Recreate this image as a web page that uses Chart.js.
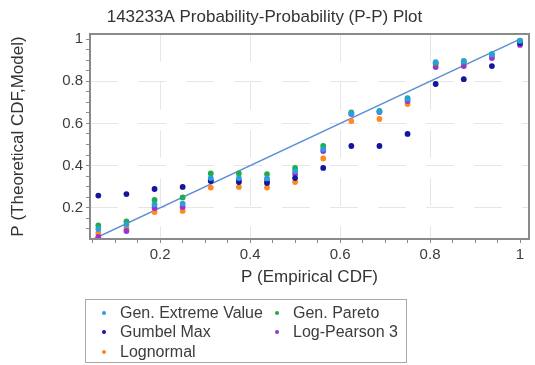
<!DOCTYPE html>
<html>
<head>
<meta charset="utf-8">
<script src="https://cdn.jsdelivr.net/npm/chart.js@4"></script>
<style>
  html, body { margin: 0; padding: 0; background: #fff; }
  #wrap { position: relative; width: 535px; height: 365px; }
  canvas { display: block; }
  #legend {
    position: absolute; left: 85px; top: 299px;
    width: 320px; height: 59px; padding-top: 3px;
    border: 1px solid #a8a8a8;
    font: 16px "Liberation Sans", Arial, sans-serif; color: #3c3c3c;
    display: grid; grid-template-columns: 173px auto; grid-auto-rows: 19.5px;
  }
  #legend .item { display: flex; align-items: center; white-space: nowrap; }
  #legend .dot { flex: 0 0 4px; width: 4px; height: 4px; border-radius: 50%; margin-left: 16px; margin-right: 14px; }
</style>
</head>
<body>
<div id="wrap">
  <canvas id="chart" width="535" height="365"></canvas>
  <div id="legend"></div>
</div>
<script>
// Empirical plotting positions (x) for the 16 observations
const empiricalP = [0.0625, 0.125, 0.1875, 0.25, 0.3125, 0.375, 0.4375, 0.5,
                    0.5625, 0.625, 0.6875, 0.75, 0.8125, 0.875, 0.9375, 1];

// Theoretical CDF values from each fitted distribution
const genExtremeValue = [0.100, 0.121, 0.216, 0.220, 0.341, 0.341, 0.339, 0.374,
                         0.479, 0.647, 0.656, 0.716, 0.891, 0.896, 0.927, 0.993];
const genPareto       = [0.116, 0.135, 0.237, 0.249, 0.363, 0.363, 0.360, 0.389,
                         0.493, 0.652, 0.659, 0.720, 0.886, 0.893, 0.929, 0.991];
const gumbelMax       = [0.258, 0.265, 0.289, 0.299, 0.327, 0.322, 0.318, 0.341,
                         0.389, 0.493, 0.493, 0.550, 0.787, 0.810, 0.872, 0.981];
const logPearson3     = [0.062, 0.090, 0.199, 0.204, 0.329, 0.329, 0.327, 0.360,
                         0.469, 0.645, 0.654, 0.706, 0.867, 0.872, 0.910, 0.972];
const lognormal       = [0.081, 0.104, 0.180, 0.185, 0.296, 0.299, 0.296, 0.322,
                         0.434, 0.611, 0.621, 0.692, 0.882, 0.886, 0.919, 0.991];

// 1:1 reference line end points
const referenceLine = [0, 1];

// Axis ticks: minor every 0.05, labelled majors every 0.2
const xTickValues = [0.05, 0.1, 0.15, 0.2, 0.25, 0.3, 0.35, 0.4, 0.45, 0.5,
                     0.55, 0.6, 0.65, 0.7, 0.75, 0.8, 0.85, 0.9, 0.95, 1];
const yTickValues = [0.1, 0.15, 0.2, 0.25, 0.3, 0.35, 0.4, 0.45, 0.5,
                     0.55, 0.6, 0.65, 0.7, 0.75, 0.8, 0.85, 0.9, 0.95, 1];
const majorTickLabels = ['0.2', '0.4', '0.6', '0.8', '1'];

const FONT = '"Liberation Sans", Arial, sans-serif';

const seriesDefs = [
  { label: 'Gen. Extreme Value', values: genExtremeValue, color: '#27a0dc' },
  { label: 'Gen. Pareto',        values: genPareto,       color: '#22ab4a' },
  { label: 'Gumbel Max',         values: gumbelMax,       color: '#15159e' },
  { label: 'Log-Pearson 3',      values: logPearson3,     color: '#9a34d0' },
  { label: 'Lognormal',          values: lognormal,       color: '#ff8a1f' }
];

const isMajor = v => majorTickLabels.includes(String(v));
const isGrid = v => isMajor(v) && v < 1;

const datasets = seriesDefs.map(s => ({
  type: 'scatter',
  label: s.label,
  data: empiricalP.map((p, i) => ({ x: p, y: s.values[i] })),
  backgroundColor: s.color,
  borderWidth: 0,
  pointRadius: 2.9,
  pointHoverRadius: 2.9
}));

datasets.push({
  type: 'line',
  label: '1:1',
  data: referenceLine.map(v => ({ x: v, y: v })),
  borderColor: '#5b8ed6',
  borderWidth: 1.5,
  pointRadius: 0,
  fill: false
});

// Grey frame around the plotting area
const plotFrame = {
  id: 'plotFrame',
  afterDatasetsDraw(chart) {
    const { ctx, chartArea: a } = chart;
    ctx.save();
    ctx.strokeStyle = '#8a8a8a';
    ctx.lineWidth = 2;
    ctx.strokeRect(a.left, a.top, a.right - a.left, a.bottom - a.top);
    ctx.restore();
  }
};

function axis(tickValues, extra) {
  return Object.assign({
    type: 'linear',
    afterBuildTicks: s => { s.ticks = tickValues.map(v => ({ value: v })); },
    ticks: {
      autoSkip: false, maxRotation: 0, padding: 3,
      color: '#3c3c3c',
      font: { family: FONT, size: 15 },
      callback: v => isMajor(v) ? String(v) : ''
    },
    grid: {
      color: c => (c.tick && isGrid(c.tick.value)) ? '#e6e6e6' : 'rgba(0,0,0,0)',
      tickColor: '#8a8a8a',
      tickLength: 4,
      lineWidth: 1
    },
    border: { display: false, dash: [28, 20] }
  }, extra);
}

new Chart(document.getElementById('chart'), {
  type: 'scatter',
  data: { datasets },
  options: {
    responsive: false,
    animation: false,
    devicePixelRatio: 1,
    layout: { padding: { left: 0, right: 6, top: 0, bottom: 77 } },
    plugins: {
      legend: { display: false },
      tooltip: { enabled: false },
      title: {
        display: true,
        text: '143233A Probability-Probability (P-P) Plot',
        color: '#333',
        font: { family: FONT, size: 17, weight: 'normal' },
        padding: { top: 7, bottom: 6.6 }
      }
    },
    scales: {
      x: axis(xTickValues, {
        min: 0.044, max: 1.02,
        afterFit: s => { s.height = 49; },
        title: {
          display: true, text: 'P (Empirical CDF)', color: '#333',
          font: { family: FONT, size: 17 }, padding: { top: 0, bottom: 0 }
        }
      }),
      y: axis(yTickValues, {
        min: 0.052, max: 1.024,
        afterFit: s => { s.width = 90; },
        title: {
          display: true, text: 'P (Theoretical CDF,Model)', color: '#333',
          font: { family: FONT, size: 17 }, padding: { top: 8, bottom: 0 }
        }
      })
    }
  },
  plugins: [plotFrame]
});

// Two-column legend listing the fitted distributions
const legend = document.getElementById('legend');
seriesDefs.forEach(s => {
  const item = document.createElement('div');
  item.className = 'item';
  const dot = document.createElement('span');
  dot.className = 'dot';
  dot.style.background = s.color;
  const txt = document.createElement('span');
  txt.textContent = s.label;
  item.appendChild(dot);
  item.appendChild(txt);
  legend.appendChild(item);
});
</script>
</body>
</html>
